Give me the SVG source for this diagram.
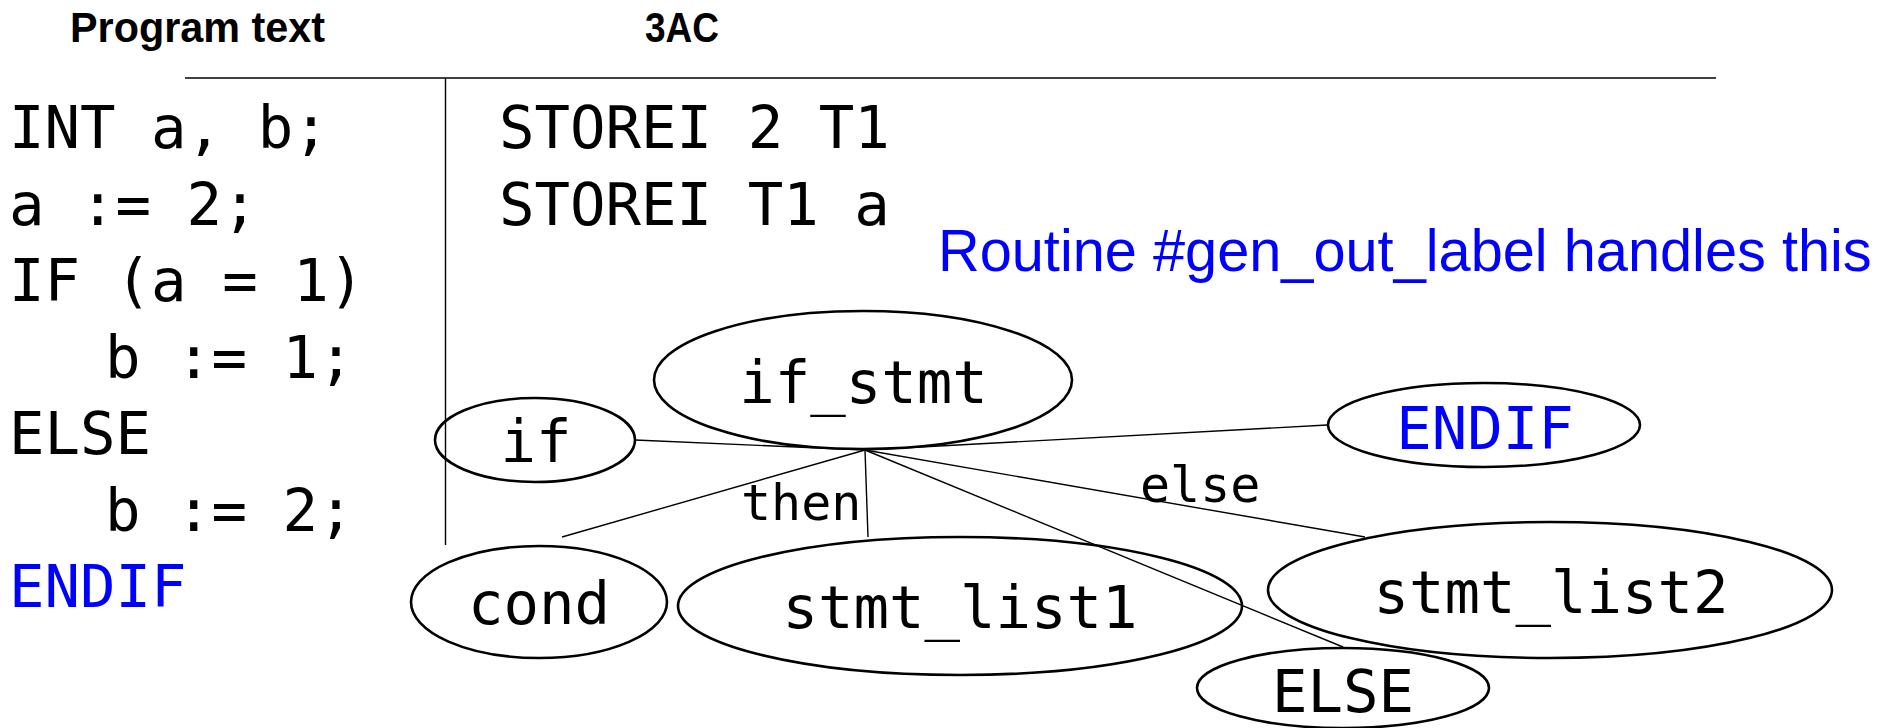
<svg xmlns="http://www.w3.org/2000/svg" width="1891" height="728" viewBox="0 0 1891 728">
<style>
.code{font-family:"DejaVu Sans Mono","Liberation Mono",monospace;font-size:59px;fill:#000}
.blue{fill:#0000ff}
.hdr{font-family:"Liberation Sans",Arial,sans-serif;font-weight:bold;font-size:42px;fill:#000}
.node ellipse{fill:none;stroke:#000;stroke-width:2.6}
.node text{font-family:"DejaVu Sans Mono","Liberation Mono",monospace;font-size:59px;text-anchor:middle;fill:#000}
.lbl{font-family:"DejaVu Sans Mono","Liberation Mono",monospace;font-size:50px;fill:#000}
.conn line{stroke:#000;stroke-width:1.4}
.rule{stroke:#000;fill:none}
</style>
<rect width="1891" height="728" fill="#fff"/>
<g id="headers">
<text class="hdr" x="70" y="42" textLength="255" lengthAdjust="spacingAndGlyphs">Program text</text>
<text class="hdr" x="645" y="42" textLength="74" lengthAdjust="spacingAndGlyphs">3AC</text>
</g>
<g id="rules">
<line class="rule" x1="185" y1="78" x2="1716" y2="78" stroke-width="1.6"/>
<line class="rule" x1="445.5" y1="78" x2="445.5" y2="545" stroke-width="1.4"/>
</g>
<g id="program-text">
<text class="code" x="9" y="148">INT a, b;</text>
<text class="code" x="9" y="224.5">a := 2;</text>
<text class="code" x="9" y="301">IF (a = 1)</text>
<text class="code" x="105" y="377.5">b := 1;</text>
<text class="code" x="9" y="454">ELSE</text>
<text class="code" x="105" y="530.5">b := 2;</text>
<text class="code blue" x="9" y="607">ENDIF</text>
</g>
<g id="three-ac">
<text class="code" x="499" y="148">STOREI 2 T1</text>
<text class="code" x="499" y="224.5">STOREI T1 a</text>
</g>
<g id="note" transform="translate(938,271) scale(0.962,1)">
<text x="0" y="0" font-family="'Liberation Sans',Arial,sans-serif" font-size="60" fill="#0000ff">Routine #gen_out_label handles this</text>
</g>
<g id="connectors" class="conn">
<line x1="865" y1="450" x2="635" y2="440"/>
<line x1="865" y1="450" x2="1327" y2="425"/>
<line x1="865" y1="450" x2="562" y2="537"/>
<line x1="865" y1="450" x2="868" y2="537"/>
<line x1="865" y1="450" x2="1365" y2="537"/>
<line x1="865" y1="450" x2="1343" y2="647"/>
<text class="lbl" x="741" y="520">then</text>
<text class="lbl" x="1140" y="502">else</text>
</g>
<g id="node-if_stmt" class="node">
<ellipse cx="863" cy="380" rx="209" ry="69"/>
<text x="863.5" y="403">if_stmt</text>
</g>
<g id="node-if" class="node">
<ellipse cx="535" cy="440" rx="100" ry="42"/>
<text x="536" y="462">if</text>
</g>
<g id="node-endif" class="node">
<ellipse cx="1484" cy="425" rx="156" ry="42"/>
<text x="1485" y="449" style="fill:#0000ff">ENDIF</text>
</g>
<g id="node-cond" class="node">
<ellipse cx="539" cy="602" rx="128" ry="56"/>
<text x="539" y="624">cond</text>
</g>
<g id="node-stmt_list1" class="node">
<ellipse cx="960" cy="606" rx="282" ry="69"/>
<text x="960" y="628">stmt_list1</text>
</g>
<g id="node-stmt_list2" class="node">
<ellipse cx="1550" cy="590" rx="282" ry="68"/>
<text x="1551" y="613">stmt_list2</text>
</g>
<g id="node-else" class="node">
<ellipse cx="1343" cy="688" rx="146" ry="40"/>
<text x="1343" y="712">ELSE</text>
</g>
</svg>
